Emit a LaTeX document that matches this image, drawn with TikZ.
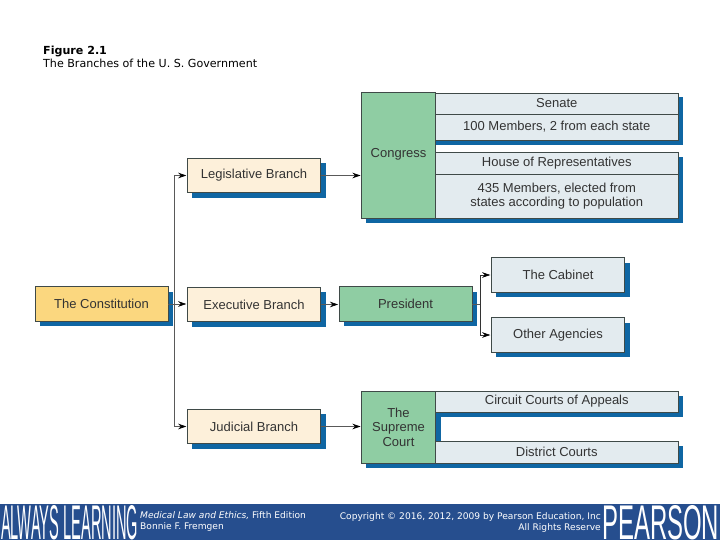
\documentclass[tikz,border=0pt]{standalone}
\usepackage{fontspec}
\setmainfont{Liberation Sans}
\newfontfamily\verdanalike{DejaVu Sans}
\usetikzlibrary{arrows.meta,shadows}
\definecolor{shadowblue}{HTML}{0F66A3}
\definecolor{bandblue}{HTML}{264E8E}
\definecolor{creambox}{HTML}{FDF0DA}
\definecolor{yellowbox}{HTML}{FBD77F}
\definecolor{greenbox}{HTML}{8FCDA3}
\definecolor{paleblue}{HTML}{E3EBEF}
\definecolor{edgegray}{HTML}{3F4A48}
\begin{document}
\begin{tikzpicture}[x=1pt,y=-1pt,font=\fontsize{13}{14.5}\selectfont,
    box/.style={draw=edgegray,line width=0.7pt,text=black!80,align=center,inner sep=0pt,outer sep=0pt},
    branchbox/.style={box,minimum width=133.5pt,minimum height=34.5pt,drop shadow={shadow xshift=5pt,shadow yshift=-5pt,fill=shadowblue,opacity=1}},
    rowbox/.style={box,fill=paleblue,minimum width=242.5pt},
    headbox/.style={box,fill=greenbox,minimum width=74pt},
    conn/.style={gray!70!black,line width=0.6pt,-{Stealth[length=8pt,width=5.5pt,black]},shorten >=1pt},
    band/.style={text=white,inner sep=0pt,font=\verdanalike\fontsize{9.1}{11}\selectfont}]
      \fill[white] (0,0) rectangle (720,540);
      \node[anchor=north west,inner sep=0pt,align=left,font=\verdanalike\fontsize{11.1}{13}\selectfont] (title) at (43,46) {\textbf{Figure 2.1}\\The Branches of the U. S. Government};
      % shadows behind the stacked rows
      \fill[shadowblue] (366,97) rectangle (683,145);
      \fill[shadowblue] (366,157) rectangle (683,223);
      \fill[shadowblue] (366,396) rectangle (683,417);
      \fill[shadowblue] (366,417) rectangle (441,468);
      \fill[shadowblue] (441,446) rectangle (683,468);
      \fill[white] (441,145) rectangle (683,152);
      % first column
      \node[branchbox,fill=yellowbox,minimum width=133pt] (constitution) at (101.5,304) {The Constitution};
      \node[branchbox,fill=creambox] (legislative) at (254,175.5) {Legislative Branch};
      \node[branchbox,fill=creambox] (executive) at (254,304.5) {Executive Branch};
      \node[branchbox,fill=creambox] (judicial) at (254,426.5) {Judicial Branch};
      % congress
      \node[headbox,minimum height=125.5pt] (congress) at (398.5,155.25) {};
      \node[text=black!80] at (398.5,154.5) (congresslabel) {Congress};
      \node[rowbox,minimum height=21pt] (senate) at (556.75,103.5) {Senate};
      \node[rowbox,minimum height=26pt] (members) at (556.75,127) {100 Members, 2 from each state};
      \node[rowbox,minimum height=22pt] (house) at (556.75,163) {House of Representatives};
      \node[rowbox,minimum height=44pt] (elected) at (556.75,196) {435 Members, elected from\\states according to population};
      % president and below him
      \node[branchbox,fill=greenbox,minimum width=133pt] (president) at (405.5,304) {President};
      \node[branchbox,fill=paleblue] (cabinet) at (558,275) {The Cabinet};
      \node[branchbox,fill=paleblue] (agencies) at (558,335) {Other Agencies};
      % courts
      \node[headbox,minimum height=72pt] (supreme) at (398.5,427) {The\\Supreme\\Court};
      \node[rowbox,minimum height=21pt] (circuit) at (556.75,401.5) {Circuit Courts of Appeals};
      \node[rowbox,minimum height=22pt] (district) at (556.75,452) {District Courts};
      % connectors
      \coordinate (trunk) at (174,304);
      \coordinate (fork) at (480,304);
      \draw[gray!70!black,line width=0.6pt] (constitution.east) -- (trunk);
      \draw[conn] (trunk) |- (legislative.west);
      \draw[conn] (trunk) -- (executive.west |- trunk);
      \draw[conn] (trunk) |- (judicial.west);
      \draw[conn] (legislative.east) -- (congress.west |- legislative.east);
      \draw[conn] (executive.east) -- (president.west |- executive.east);
      \draw[conn] (judicial.east) -- (supreme.west |- judicial.east);
      \draw[gray!70!black,line width=0.6pt] (president.east) -- (fork);
      \draw[conn,draw=black!80] (fork) |- (cabinet.west);
      \draw[conn,draw=black!80] (fork) |- (agencies.west);
      % footer
      \fill[bandblue] (0,504) rectangle (720,540);
      \node[band,anchor=west] (book) at (140,515.5) {\textit{Medical Law and Ethics,} Fifth Edition};
      \node[band,anchor=west] (authorname) at (140,527) {Bonnie F. Fremgen};
      \node[band,anchor=east] (copyright) at (601,517) {Copyright © 2016, 2012, 2009 by Pearson Education, Inc};
      \node[band,anchor=east] (rights) at (601,528) {All Rights Reserve};
      \node[anchor=north west,inner sep=0pt,text=white] (learning) at (1,505) {\resizebox{137pt}{34pt}{ALWAYS LEARNING}};
      \node[anchor=north west,inner sep=0pt,text=white] (pearson) at (602,505) {\resizebox{117pt}{34pt}{PEARSON}};
    \end{tikzpicture}
\end{document}
